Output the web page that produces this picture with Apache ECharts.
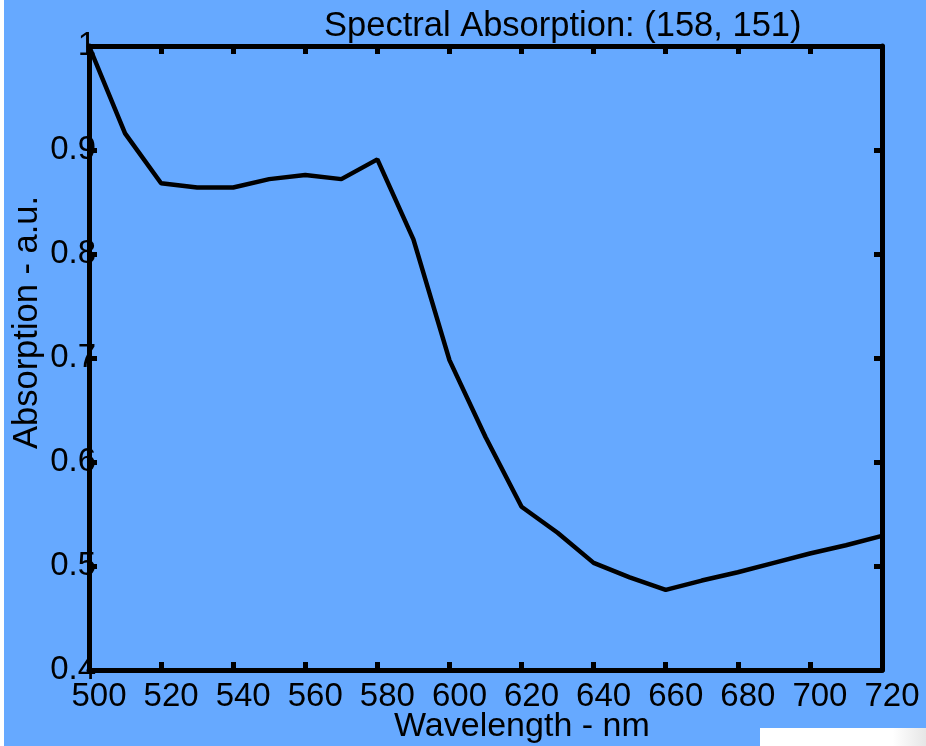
<!DOCTYPE html>
<html lang="en">
  <head>
    <meta charset="UTF-8" />
    <script src="https://cdn.jsdelivr.net/npm/echarts@6/dist/echarts.min.js"></script>
    <title>Spectral Absorption</title>
    <style>
      html, body { margin: 0; padding: 0; background: #66a9ff; }
      #app { width: 926px; height: 746px; }
    </style>
  </head>
  <body>
    <div id="app"></div>
    <script>
      // wavelength (nm) vs. absorption (a.u.)
      const wavelengths = [500, 510, 520, 530, 540, 550, 560, 570, 580, 590, 600, 610,
        620, 630, 640, 650, 660, 670, 680, 690, 700, 710, 720];
      const absorption = [1.0, 0.916, 0.868, 0.864, 0.864, 0.872, 0.876, 0.872, 0.891, 0.814,
        0.698, 0.624, 0.557, 0.532, 0.503, 0.489, 0.477, 0.486, 0.494, 0.503, 0.512, 0.520, 0.529];

      const titleText = "Spectral Absorption: (158, 151)";
      const xName = "Wavelength - nm";
      const yName = "Absorption - a.u.";

      const font = "'Liberation Sans', Arial, sans-serif";
      const chart = echarts.init(document.getElementById("app"));

      const tick = { show: true, inside: true, length: 8, lineStyle: { color: "#000", width: 5 } };
      const line = { show: true, onZero: false, lineStyle: { color: "#000", width: 5 } };

      chart.setOption({
        backgroundColor: "#66a9ff",
        animation: false,
        title: {
          text: titleText,
          left: 319,
          top: 4,
          textStyle: { fontFamily: font, fontSize: 34.5, fontWeight: "normal", color: "#000" },
        },
        grid: { left: 89, right: 44, top: 46, bottom: 76 },
        xAxis: [
          {
            type: "value",
            min: 500,
            max: 720,
            interval: 20,
            axisLine: line,
            axisTick: tick,
            splitLine: { show: false },
            axisLabel: {
              fontFamily: font, fontSize: 33, color: "#000",
              margin: 10, padding: [0, 0, 0, 20],
              showMinLabel: true, showMaxLabel: true,
            },
          },
          {
            type: "value",
            position: "top",
            min: 500,
            max: 720,
            interval: 20,
            axisLine: line,
            axisTick: tick,
            axisLabel: { show: false },
            splitLine: { show: false },
          },
        ],
        yAxis: [
          {
            type: "value",
            min: 0.4,
            max: 1,
            interval: 0.1,
            axisLine: line,
            axisTick: tick,
            splitLine: { show: false },
            axisLabel: {
              fontFamily: font, fontSize: 33, color: "#000",
              margin: -7, padding: [10, 0, 0, 0],
            },
            z: 1,
          },
          {
            type: "value",
            position: "right",
            min: 0.4,
            max: 1,
            interval: 0.1,
            axisLine: line,
            axisTick: tick,
            axisLabel: { show: false },
            splitLine: { show: false },
          },
        ],
        graphic: [
          {
            type: "text",
            left: 394,
            top: 710,
            style: { text: xName, fontFamily: font, fontSize: 34, fill: "#000" },
          },
          {
            type: "text",
            x: 10,
            y: 449,
            rotation: Math.PI / 2,
            style: { text: yName, fontFamily: font, fontSize: 34.5, fill: "#000" },
          },
          // white strips at the edges of the original screenshot
          { type: "rect", shape: { x: 0, y: 0, width: 4, height: 746 }, style: { fill: "#fff" } },
          {
            type: "rect",
            shape: { x: 760, y: 728, width: 166, height: 18 },
            style: {
              fill: new echarts.graphic.LinearGradient(0, 0, 1, 0, [
                { offset: 0, color: "#ffffff" },
                { offset: 0.8, color: "#ffffff" },
                { offset: 1, color: "#e6e6e6" },
              ]),
            },
          },
        ],
        series: [
          {
            type: "line",
            data: wavelengths.map((w, i) => [w, absorption[i]]),
            symbol: "none",
            lineStyle: { color: "#000", width: 4.5 },
            z: 3,
          },
        ],
      });
    </script>
  </body>
</html>
